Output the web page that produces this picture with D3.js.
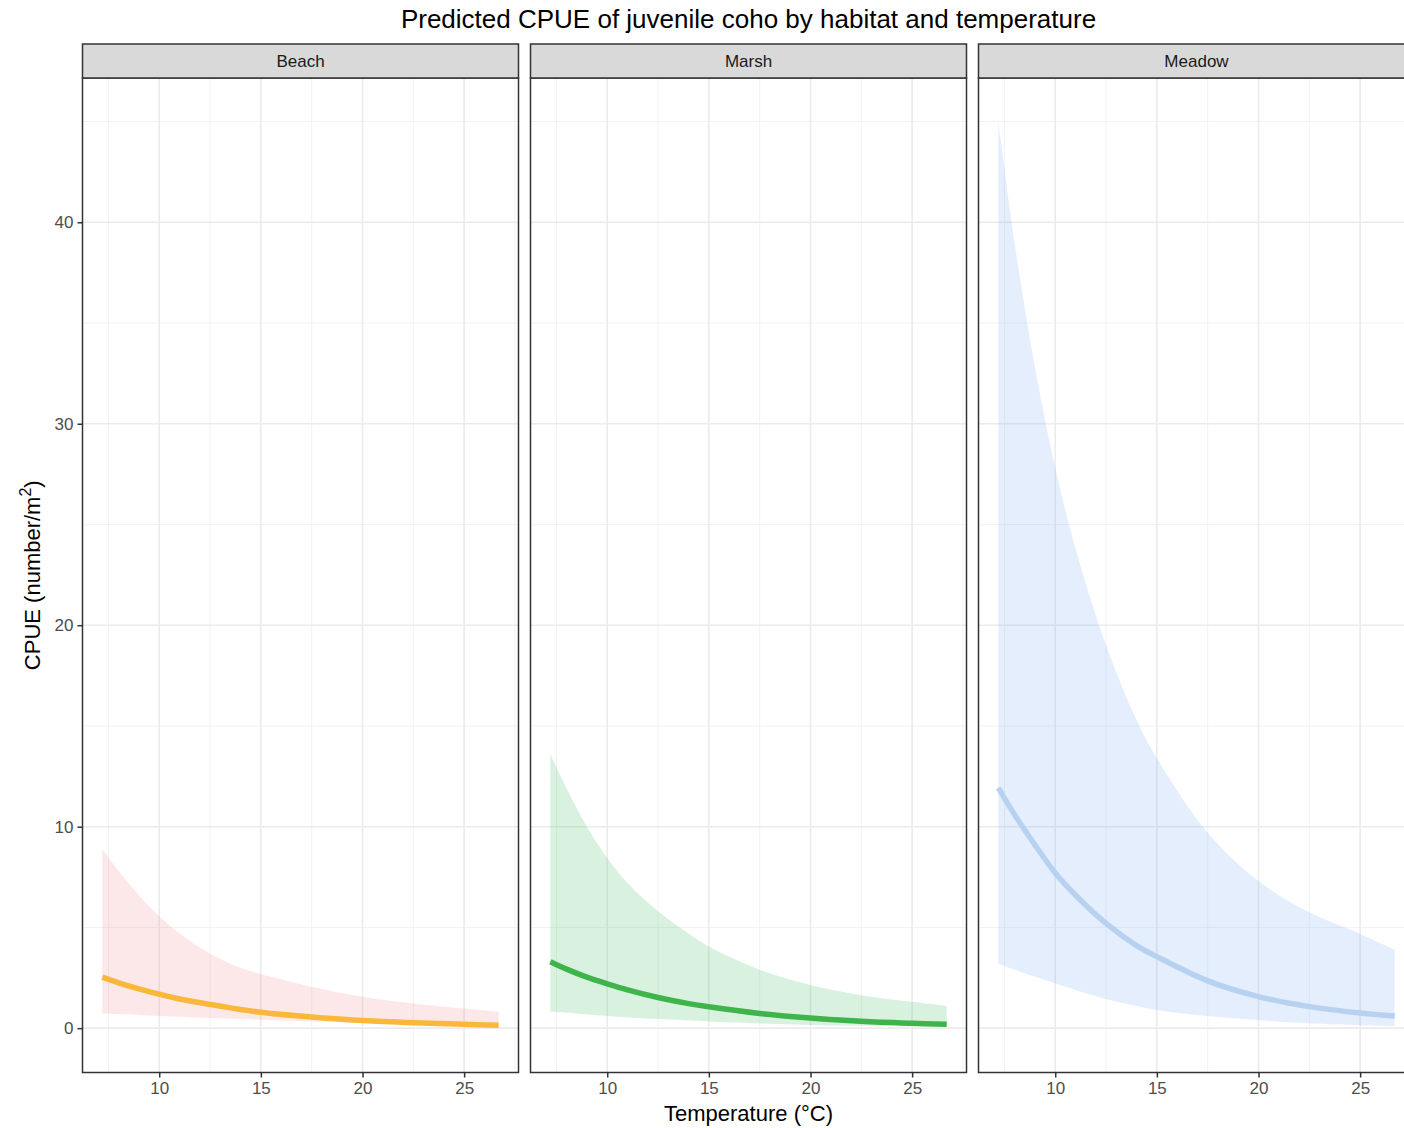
<!DOCTYPE html>
<html>
<head>
<meta charset="utf-8">
<script src="https://cdn.jsdelivr.net/npm/d3@7"></script>
<style>
  body { margin: 0; background: #fff; }
  svg { display: block; font-family: "Liberation Sans", Arial, sans-serif; }
</style>
</head>
<body>
<svg id="chart" width="1404" height="1128"></svg>
<script>
// facets
var habitats = ["Beach", "Marsh", "Meadow"];

// temperature grid the curves were read at (deg C)
var temps = [7.2, 8, 9, 10, 11, 12.5, 14, 15, 17.5, 20, 22.5, 25, 26.7];

// predicted CPUE and confidence band
var beachFit   = [2.53, 2.25, 1.95, 1.69, 1.45, 1.18, 0.93, 0.79, 0.55, 0.38, 0.27, 0.19, 0.15];
var beachLower = [0.73, 0.70, 0.66, 0.61, 0.57, 0.50, 0.45, 0.42, 0.34, 0.27, 0.20, 0.16, 0.13];
var beachUpper = [8.9, 7.8, 6.6, 5.55, 4.7, 3.7, 3.0, 2.69, 2.06, 1.56, 1.23, 0.98, 0.82];

var marshFit   = [3.30, 2.93, 2.53, 2.20, 1.90, 1.52, 1.22, 1.06, 0.73, 0.50, 0.34, 0.24, 0.19];
var marshLower = [0.81, 0.76, 0.68, 0.60, 0.53, 0.45, 0.38, 0.33, 0.23, 0.16, 0.12, 0.09, 0.07];
var marshUpper = [13.6, 11.9, 10.0, 8.45, 7.2, 5.8, 4.7, 4.05, 2.9, 2.14, 1.64, 1.31, 1.11];

var meadowFit   = [11.93, 10.6, 9.1, 7.7, 6.6, 5.2, 4.1, 3.55, 2.35, 1.57, 1.07, 0.75, 0.6];
var meadowLower = [3.2, 2.9, 2.55, 2.22, 1.9, 1.45, 1.1, 0.9, 0.6, 0.4, 0.25, 0.15, 0.11];
var meadowUpper = [45.0, 39.0, 32.8, 27.8, 23.8, 19.0, 15.3, 13.4, 9.7, 7.3, 5.75, 4.68, 3.9];

var xTicks = [10, 15, 20, 25];
var xMinor = [7.5, 12.5, 17.5, 22.5, 27.5];
var yTicks = [0, 10, 20, 30, 40];
var yMinor = [5, 15, 25, 35, 45];

var lineColors   = ["#f9b83a", "#3fb44b", "#b7d2f0"];
var ribbonColors = ["#f28c8c", "#41be64", "#78aaf5"];

var fits   = [beachFit, marshFit, meadowFit];
var lowers = [beachLower, marshLower, meadowLower];
var uppers = [beachUpper, marshUpper, meadowUpper];

var series = habitats.map(function(h, k) {
  return {
    name: h,
    points: temps.map(function(t, i) {
      return {t: t, fit: fits[k][i], lo: lowers[k][i], hi: uppers[k][i]};
    })
  };
});

var svg = d3.select("#chart");

var panelW = 436, gap = 12, left0 = 82.5;
var stripTop = 44, panelTop = 78, panelBottom = 1072.5;

var x = d3.scaleLinear().domain([6.225, 27.675]).range([0, panelW]);
var y = d3.scaleLinear().domain([-2.2, 47.16]).range([panelBottom, panelTop]);

svg.append("defs").selectAll("clipPath")
  .data(habitats).enter().append("clipPath")
    .attr("id", function(d, i) { return "clip" + i; })
  .append("rect")
    .attr("x", 0).attr("y", panelTop)
    .attr("width", panelW).attr("height", panelBottom - panelTop);

var smooth = d3.curveCatmullRom.alpha(0.5);

var area = d3.area()
  .x(function(d) { return x(d.t); })
  .y0(function(d) { return y(d.lo); })
  .y1(function(d) { return y(d.hi); })
  .curve(smooth);

var line = d3.line()
  .x(function(d) { return x(d.t); })
  .y(function(d) { return y(d.fit); })
  .curve(smooth);

var panel = svg.selectAll(".panel")
  .data(series)
  .enter().append("g")
  .attr("class", "panel")
  .attr("transform", function(d, i) { return "translate(" + (left0 + i * (panelW + gap)) + ",0)"; });

panel.each(function(s, k) {
  var g = d3.select(this);
  var inner = g.append("g").attr("clip-path", "url(#clip" + k + ")");

  // minor grid
  inner.selectAll(".xminor").data(xMinor).enter().append("line")
    .attr("x1", function(d) { return x(d); }).attr("x2", function(d) { return x(d); })
    .attr("y1", panelTop).attr("y2", panelBottom)
    .style("stroke", "#f2f2f2").style("stroke-width", 1);
  inner.selectAll(".yminor").data(yMinor).enter().append("line")
    .attr("x1", 0).attr("x2", panelW)
    .attr("y1", function(d) { return y(d); }).attr("y2", function(d) { return y(d); })
    .style("stroke", "#f2f2f2").style("stroke-width", 1);
  // major grid
  inner.selectAll(".xmajor").data(xTicks).enter().append("line")
    .attr("x1", function(d) { return x(d); }).attr("x2", function(d) { return x(d); })
    .attr("y1", panelTop).attr("y2", panelBottom)
    .style("stroke", "#ebebeb").style("stroke-width", 1.6);
  inner.selectAll(".ymajor").data(yTicks).enter().append("line")
    .attr("x1", 0).attr("x2", panelW)
    .attr("y1", function(d) { return y(d); }).attr("y2", function(d) { return y(d); })
    .style("stroke", "#ebebeb").style("stroke-width", 1.6);

  inner.append("path")
    .datum(s.points)
    .attr("d", area)
    .style("fill", ribbonColors[k])
    .style("fill-opacity", 0.2);

  inner.append("path")
    .datum(s.points)
    .attr("d", line)
    .style("fill", "none")
    .style("stroke", lineColors[k])
    .style("stroke-width", 5.5);

  // panel border
  g.append("rect")
    .attr("x", 0).attr("y", panelTop)
    .attr("width", panelW).attr("height", panelBottom - panelTop)
    .style("fill", "none").style("stroke", "#333").style("stroke-width", 1.5);

  // strip
  g.append("rect")
    .attr("x", 0).attr("y", stripTop)
    .attr("width", panelW).attr("height", panelTop - stripTop)
    .style("fill", "#d9d9d9").style("stroke", "#333").style("stroke-width", 1.5);
  g.append("text")
    .attr("x", panelW / 2).attr("y", (stripTop + panelTop) / 2 + 6)
    .attr("text-anchor", "middle")
    .style("font-size", "17px").style("fill", "#1a1a1a")
    .text(s.name);

  // x axis
  var xAxis = d3.axisBottom(x).tickValues(xTicks).tickSize(5).tickPadding(4);
  var ax = g.append("g").attr("transform", "translate(0," + panelBottom + ")").call(xAxis);
  ax.select(".domain").remove();
  ax.selectAll(".tick line").style("stroke", "#333").style("stroke-width", 1.5);
  ax.selectAll(".tick text").style("font-size", "17px").style("fill", "#4d4d4d")
    .style("font-family", "Liberation Sans, Arial, sans-serif");
});

// y axis on first panel
var yAxis = d3.axisLeft(y).tickValues(yTicks).tickSize(5).tickPadding(4);
var ay = svg.append("g").attr("transform", "translate(" + left0 + ",0)").call(yAxis);
ay.select(".domain").remove();
ay.selectAll(".tick line").style("stroke", "#333").style("stroke-width", 1.5);
ay.selectAll(".tick text").style("font-size", "17px").style("fill", "#4d4d4d")
  .style("font-family", "Liberation Sans, Arial, sans-serif");

var midX = left0 + (3 * panelW + 2 * gap) / 2;

svg.append("text")
  .attr("x", midX).attr("y", 28)
  .attr("text-anchor", "middle")
  .style("font-size", "26px").style("fill", "#000")
  .text("Predicted CPUE of juvenile coho by habitat and temperature");

svg.append("text")
  .attr("x", midX).attr("y", 1121)
  .attr("text-anchor", "middle")
  .style("font-size", "22px").style("fill", "#000")
  .text("Temperature (\u00B0C)");

var yt = svg.append("text")
  .attr("transform", "translate(40," + ((panelTop + panelBottom) / 2) + ") rotate(-90)")
  .attr("text-anchor", "middle")
  .style("font-size", "22px").style("fill", "#000");
yt.append("tspan").text("CPUE (number/m");
yt.append("tspan").attr("dy", -9).style("font-size", "16px").text("2");
yt.append("tspan").attr("dy", 9).text(")");
</script>
</body>
</html>
